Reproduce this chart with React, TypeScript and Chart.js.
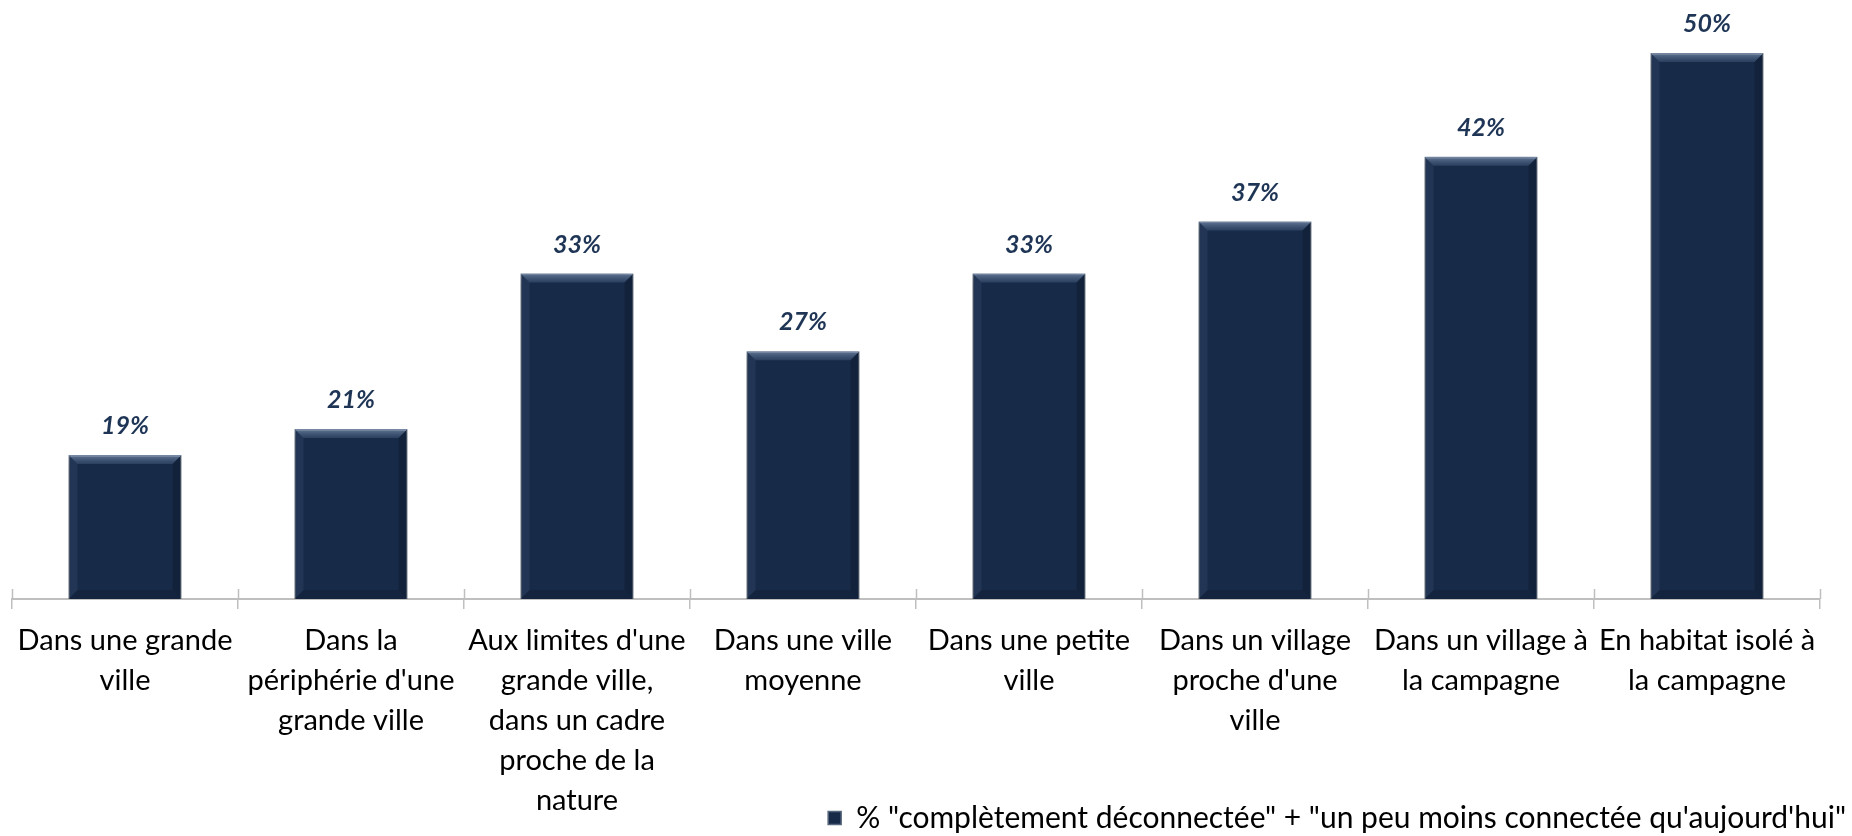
import React, { useEffect, useRef } from "react";
import { Chart, registerables } from "chart.js";

Chart.register(...registerables);

const categories: string[][] = [
  ["Dans une grande", "ville"],
  ["Dans la", "périphérie d'une", "grande ville"],
  ["Aux limites d'une", "grande ville,", "dans un cadre", "proche de la", "nature"],
  ["Dans une ville", "moyenne"],
  ["Dans une petite", "ville"],
  ["Dans un village", "proche d'une", "ville"],
  ["Dans un village à", "la campagne"],
  ["En habitat isolé à", "la campagne"],
];
const values: number[] = [19, 21, 33, 27, 33, 37, 42, 50];
const valueLabels: string[] = ["19%", "21%", "33%", "27%", "33%", "37%", "42%", "50%"];
const seriesName = '% "complètement déconnectée" + "un peu moins connectée qu\'aujourd\'hui"';
const yMin = 7.9;
const yMax = 52.54;

const W = 1852;
const H = 836;
const AXIS_Y = 599;
const PAD_BOTTOM = -7;

const barShadow = {
  id: "barShadow",
  beforeDatasetDraw(chart: any) {
    const ctx = chart.ctx;
    ctx.save();
    ctx.shadowColor = "rgba(0,0,0,0.35)";
    ctx.shadowBlur = 10;
    ctx.shadowOffsetX = -4;
    ctx.shadowOffsetY = 0;
  },
  afterDatasetDraw(chart: any) {
    const ctx = chart.ctx;
    ctx.restore();
    const meta = chart.getDatasetMeta(0);
    const bottom = chart.chartArea.bottom;
    ctx.save();
    meta.data.forEach((bar: any) => {
      const p = bar.getProps(["x", "y", "width", "base"], true);
      const l = p.x - p.width / 2;
      const r = p.x + p.width / 2;
      const t = p.y;
      const b = Math.min(p.base, bottom);
      const e = 9;
      const g = ctx.createLinearGradient(0, t, 0, t + e);
      g.addColorStop(0, "rgba(150,170,200,0.6)");
      g.addColorStop(1, "rgba(90,115,150,0.3)");
      ctx.fillStyle = g;
      ctx.beginPath();
      ctx.moveTo(l, t);
      ctx.lineTo(r, t);
      ctx.lineTo(r - e, t + e);
      ctx.lineTo(l + e, t + e);
      ctx.closePath();
      ctx.fill();
      ctx.fillStyle = "rgba(120,140,170,0.12)";
      ctx.beginPath();
      ctx.moveTo(l, t);
      ctx.lineTo(l + e, t + e);
      ctx.lineTo(l + e, b - e);
      ctx.lineTo(l, b);
      ctx.closePath();
      ctx.fill();
      ctx.fillStyle = "rgba(0,0,0,0.18)";
      ctx.beginPath();
      ctx.moveTo(r, t);
      ctx.lineTo(r - e, t + e);
      ctx.lineTo(r - e, b - e);
      ctx.lineTo(r, b);
      ctx.closePath();
      ctx.fill();
      ctx.fillStyle = "rgba(0,0,0,0.12)";
      ctx.beginPath();
      ctx.moveTo(l, b);
      ctx.lineTo(l + e, b - e);
      ctx.lineTo(r - e, b - e);
      ctx.lineTo(r, b);
      ctx.closePath();
      ctx.fill();
    });
    ctx.restore();
  },
};

const dataLabels = {
  id: "dataLabels",
  afterDatasetsDraw(chart: any) {
    const ctx = chart.ctx;
    const meta = chart.getDatasetMeta(0);
    ctx.save();
    ctx.font = "italic bold 25px Lato";
    ctx.fillStyle = "#1f3556";
    ctx.textAlign = "center";
    ctx.textBaseline = "middle";
    meta.data.forEach((bar: any, i: number) => {
      ctx.fillText(valueLabels[i], bar.x, bar.y - 29);
    });
    ctx.restore();
  },
};

const crossTicks = {
  id: "crossTicks",
  afterLayout(chart: any) {
    // let multi-line category labels extend past the axis box
    chart.scales.x._computeLabelArea = () => undefined;
  },
  afterDraw(chart: any) {
    const x = chart.scales.x;
    const ctx = chart.ctx;
    ctx.save();
    ctx.strokeStyle = "#bfbfbf";
    ctx.lineWidth = 1.5;
    for (let i = 0; i <= categories.length; i++) {
      const px = Math.round(x.getPixelForValue(i - 0.5)) + 0.5;
      ctx.beginPath();
      ctx.moveTo(px, x.top - 10);
      ctx.lineTo(px, x.top);
      ctx.stroke();
    }
    ctx.restore();
  },
};

export default function App() {
  const ref = useRef<HTMLCanvasElement>(null);
  useEffect(() => {
    const chart = new Chart(ref.current as HTMLCanvasElement, {
      type: "bar",
      data: {
        labels: categories,
        datasets: [
          {
            label: seriesName,
            data: values,
            backgroundColor: "#172a48",
            borderColor: "#56677d",
            borderWidth: 1.5,
            barPercentage: 0.5,
            categoryPercentage: 1,
          },
        ],
      },
      options: {
        responsive: false,
        animation: false,
        layout: { padding: { left: 12, right: 0, top: 20, bottom: PAD_BOTTOM } },
        scales: {
          x: {
            offset: true,
            grid: {
              offset: true,
              drawOnChartArea: false,
              drawTicks: true,
              tickLength: 10,
              color: "#bfbfbf",
              lineWidth: 1.5,
            },
            border: { display: true, color: "#bfbfbf", width: 2 },
            ticks: {
              autoSkip: false,
              maxRotation: 0,
              minRotation: 0,
              padding: 12,
              color: "#000000",
              font: { family: "Lato", size: 29, lineHeight: "40px" },
            },
            afterFit: (s: any) => {
              const lh = s.chart.legend ? s.chart.legend.height : 0;
              s.height = H - PAD_BOTTOM - AXIS_Y - lh;
            },
          },
          y: {
            position: "right",
            min: yMin,
            max: yMax,
            grid: { display: false },
            border: { display: false },
            ticks: { display: false },
            afterFit: (s: any) => {
              s.width = 32;
            },
          },
        },
        plugins: {
          legend: {
            position: "bottom",
            align: "end",
            onClick: () => {},
            labels: {
              boxWidth: 13,
              boxHeight: 13,
              padding: 6,
              color: "#000000",
              font: { family: "Lato", size: 30 },
            },
          },
          tooltip: { enabled: false },
        },
      },
      plugins: [barShadow, dataLabels, crossTicks],
    } as any);
    return () => chart.destroy();
  }, []);
  return (
    <div style={{ position: "absolute", left: 0, top: 0, width: W, height: H, background: "#ffffff" }}>
      <canvas ref={ref} width={W} height={H} style={{ display: "block" }} />
    </div>
  );
}
